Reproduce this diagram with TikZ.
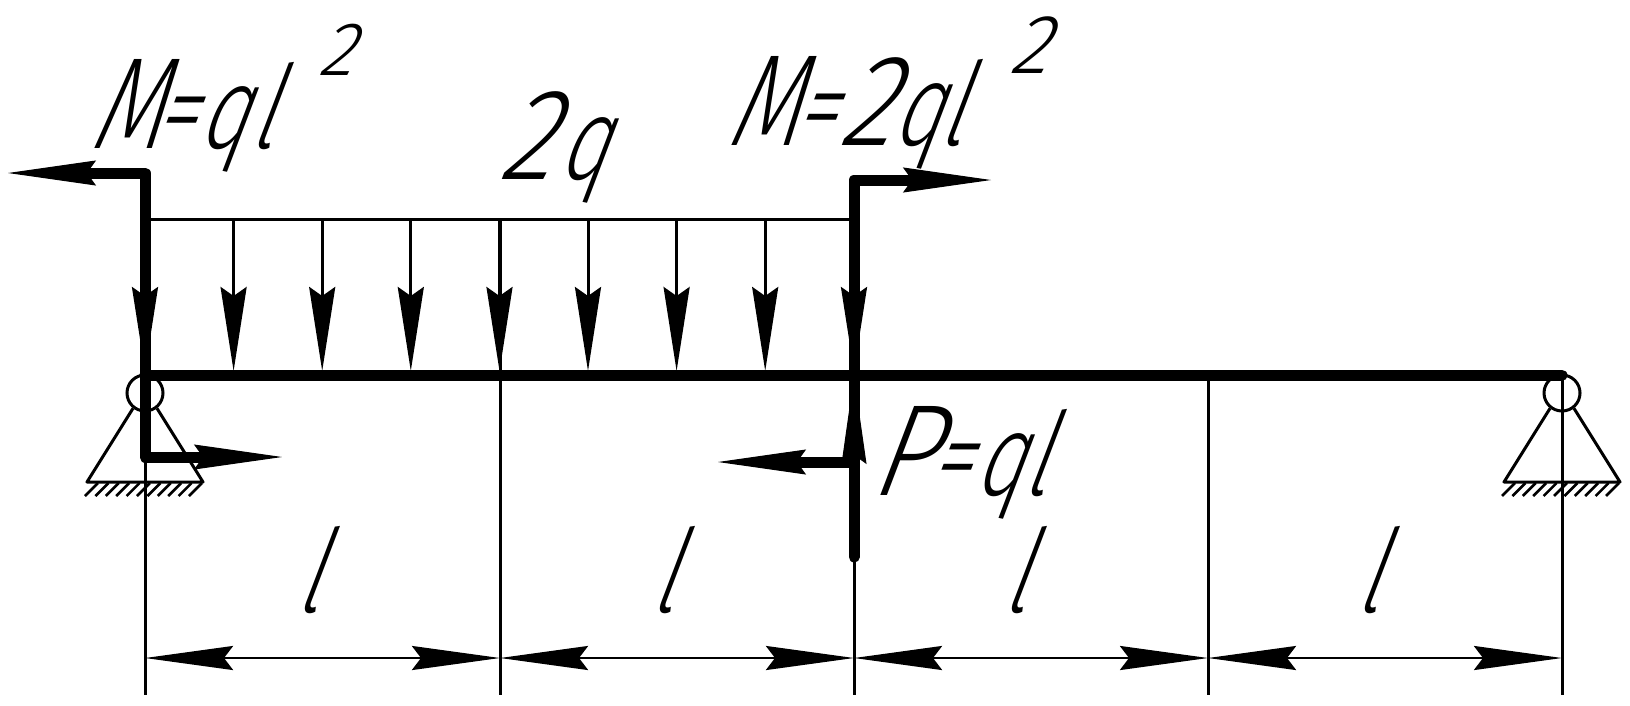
\documentclass[tikz,border=0pt]{standalone}
\usepackage{fontspec}
\usetikzlibrary{arrows.meta}
\newfontfamily\gostcap[FakeSlant=0.38,FakeStretch=0.85]{Fira Sans Light}
\newfontfamily\gostsup[FakeSlant=0.38,FakeStretch=0.95]{Fira Sans Light}
\newfontfamily\gostm[FakeSlant=0.38,FakeStretch=0.7]{Fira Sans Light}
\newfontfamily\gostlow[FakeSlant=0.38,FakeStretch=0.72]{Fira Sans Light}
\newcommand{\Cp}[1]{{\gostcap\fontsize{130}{130}\selectfont #1}}
\newcommand{\Mm}[1]{{\gostm\fontsize{130}{130}\selectfont #1}}
\newcommand{\Lw}[1]{{\gostlow\fontsize{116}{120}\selectfont #1}}
\tikzset{
  x=1pt,y=-1pt,
  heavy/.style={line width=11pt,line cap=round,line join=round},
  thin line/.style={line width=3pt},
  head/.style={line width=1pt,-{Stealth[length=88pt,width=25pt,inset=9pt]}},
  dim/.style={line width=2.6pt,{Stealth[length=88pt,width=24pt,inset=9pt]}-{Stealth[length=88pt,width=24pt,inset=9pt]}},
  load/.style={line width=3pt,-{Stealth[length=84pt,width=26pt,inset=9pt]}},
  hinge/.style={circle,draw,line width=3pt,minimum size=36pt,inner sep=0pt},
  txt/.style={inner sep=0pt,anchor=base west},
  small/.style={inner sep=0pt,anchor=base west},
}
\begin{document}
\begin{tikzpicture}
\useasboundingbox (0,0) rectangle (1630,705);
% points
\coordinate (A) at (145,375);
\coordinate (B) at (500,375);
\coordinate (C) at (854,375);
\coordinate (D) at (1208,375);
\coordinate (E) at (1562,375);
% supports
\foreach \n/\x in {sl/145,sr/1562}{
  \node[hinge] (\n) at (\x,393) {};
  \coordinate (\n a) at (\x-58,482);
  \coordinate (\n b) at (\x+58,482);
  \draw[thin line,line join=round] (\n.-128) -- (\n a) -- (\n b) -- (\n.-52);
  \foreach \i in {0,...,10}{
    \draw[line width=2.6pt] (\x-47+10.4*\i,483) -- ++(-13,13);
  }
}
% extension lines
\foreach \p/\y in {A/457,B/219,C/561,D/375,E/375}{
  \coordinate (\p b) at (\p |- 0,695);
  \draw[thin line] (\p |- 0,\y) -- (\p b);
}
% distributed load
\coordinate (Ltl) at (145,219);
\coordinate (Ltr) at (854,219);
\draw[thin line] (Ltl) -- (Ltr);
\foreach \x in {145,233.6,322.2,410.8,499.5,588,676.6,765.2,854}{
  \draw[load] (\x,219) -- (\x,371);
}
% beam and frames
\draw[heavy] (A) -- (E);
\coordinate (m1) at (98,173);  \coordinate (m1t) at (8,173);
\coordinate (m1c) at (145,173); \coordinate (m1e) at (80,173);
\coordinate (m2) at (192,457); \coordinate (m2t) at (282,457);
\coordinate (m2c) at (145,457); \coordinate (m2e) at (210,457);
\coordinate (m3) at (900,180); \coordinate (m3t) at (991,180);
\coordinate (m3c) at (854,180); \coordinate (m3e) at (918,180);
\coordinate (m4) at (807,462); \coordinate (m4t) at (718,462);
\coordinate (m4c) at (854,462); \coordinate (m4e) at (789,462);
\coordinate (m5) at (854,557);
\draw[heavy] (m1e) -- (m1c) -- (m2c) -- (m2e);
\draw[heavy] (m3e) -- (m3c) -- (m5);
\draw[heavy] (m4c) -- (m4e);
\draw[head] (m1) -- (m1t);
\draw[head] (m2) -- (m2t);
\draw[head] (m3) -- (m3t);
\draw[head] (m4) -- (m4t);
\coordinate (up0) at (854,464);
\coordinate (up1) at (854,376);
\draw[head] (up0) -- (up1);
% dimensions
\foreach \a/\b in {A/B,B/C,C/D,D/E}{
  \draw[dim] (\a |- 0,658) -- (\b |- 0,658);
}
% labels
\node[txt] (t1) at (88,148) {\Mm{M}\kern-7pt\Lw{=}\kern4pt\Lw{q}\kern3pt\Lw{l}};
\node[small] (t1s) at (317,75) {\gostsup\fontsize{76}{76}\selectfont 2};
\node[txt] (t2) at (497,179) {\Cp{2}\kern6pt\Lw{q}};
\node[txt] (t3) at (725,145) {\Mm{M}\kern-4pt\Lw{=}\kern5pt\Cp{2}\Lw{q}\kern-2pt\Lw{l}};
\node[small] (t3s) at (1008,73) {\gostsup\fontsize{84}{84}\selectfont 2};
\node[txt] (t4) at (868,495) {\Cp{P}\kern-5pt\Lw{=}\kern5pt\Lw{q}\Lw{l}};
\node[txt] (l1) at (294,612) {\Lw{l}};
\node[txt] (l2) at (649,612) {\Lw{l}};
\node[txt] (l3) at (1001,612) {\Lw{l}};
\node[txt] (l4) at (1354,612) {\Lw{l}};
\end{tikzpicture}
\end{document}
